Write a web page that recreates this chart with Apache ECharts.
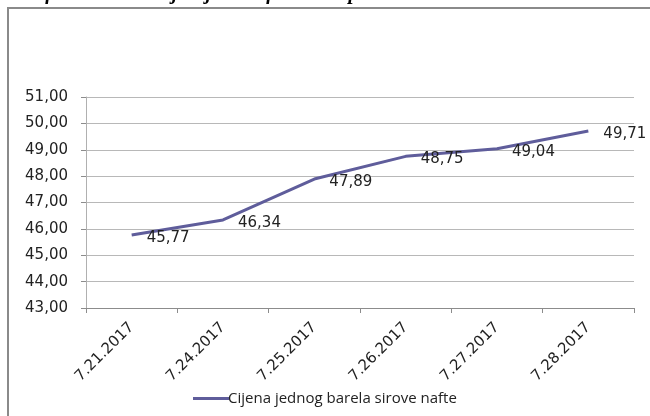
<!DOCTYPE html>
<html>
<head>
<meta charset="utf-8">
<script src="https://cdn.jsdelivr.net/npm/echarts@6/dist/echarts.min.js"></script>
<style>
html,body{margin:0;padding:0;background:#fff;}
#chart{width:650px;height:416px;}
</style>
</head>
<body>
<div id="chart"></div>
<script>
const titleText = "Grafikon 1: Kretanje cijene nafte tokom prošle sedmice";
const seriesName = "Cijena jednog barela sirove nafte";
const categories = ["7.21.2017", "7.24.2017", "7.25.2017", "7.26.2017", "7.27.2017", "7.28.2017"];
const prices = [45.77, 46.34, 47.89, 48.75, 49.04, 49.71];
const yMin = 43, yMax = 51, yStep = 1;

const fmt = v => v.toFixed(2).replace('.', ',');

const chart = echarts.init(document.getElementById('chart'), null, {renderer: 'canvas'});
chart.setOption({
  animation: false,
  backgroundColor: '#ffffff',
  title: {
    text: titleText,
    left: 8,
    top: -21,
    textStyle: {fontFamily: 'Liberation Serif', fontStyle: 'italic', fontWeight: 'bold', fontSize: 20, color: '#000'}
  },
  graphic: [{
    type: 'rect',
    shape: {x: 8, y: 8, width: 660, height: 430},
    style: {fill: 'none', stroke: '#8a8a8a', lineWidth: 2},
    z: 10
  }],
  grid: {left: 86, right: 16, top: 97, bottom: 108, containLabel: false},
  legend: {
    data: [seriesName],
    left: 188,
    top: 386,
    icon: 'rect',
    itemWidth: 36,
    itemHeight: 3,
    itemGap: 0,
    textStyle: {fontFamily: 'Open Sans', fontSize: 15, color: '#222', padding: [0, 0, 0, -6]}
  },
  xAxis: {
    type: 'category',
    data: categories,
    boundaryGap: true,
    axisLine: {lineStyle: {color: '#8c8c8c', width: 1}},
    axisTick: {show: true, length: 5, lineStyle: {color: '#8c8c8c'}},
    axisLabel: {rotate: 45, fontFamily: 'DejaVu Sans', fontSize: 15, color: '#222', margin: 17, interval: 0}
  },
  yAxis: {
    type: 'value',
    min: yMin, max: yMax, interval: yStep,
    axisLine: {show: true, lineStyle: {color: '#b0b0b0', width: 1}},
    axisTick: {show: true, length: 5, lineStyle: {color: '#8c8c8c'}},
    axisLabel: {formatter: fmt, fontFamily: 'DejaVu Sans', fontSize: 15, color: '#222', margin: 18},
    splitLine: {lineStyle: {color: '#b8b8b8', width: 1}}
  },
  series: [{
    name: seriesName,
    type: 'line',
    data: prices,
    symbol: 'circle',
    symbolSize: 0,
    showSymbol: true,
    lineStyle: {color: '#5f5d9b', width: 3},
    itemStyle: {color: '#5f5d9b'},
    label: {
      show: true,
      position: 'right',
      distance: 15,
      offset: [0, 3],
      formatter: p => fmt(p.value),
      fontFamily: 'DejaVu Sans',
      fontSize: 15,
      color: '#222'
    }
  }]
});
</script>
</body>
</html>
